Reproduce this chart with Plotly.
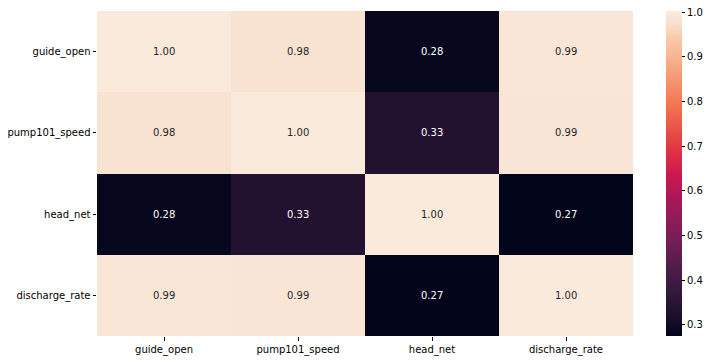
import plotly.graph_objects as go

labels = ["guide_open", "pump101_speed", "head_net", "discharge_rate"]
corr = [
    [1.00, 0.98, 0.281, 0.99],
    [0.98, 1.00, 0.33, 0.988],
    [0.281, 0.33, 1.00, 0.2745],
    [0.99, 0.988, 0.2745, 1.00],
]
cbar_ticks = [0.3, 0.4, 0.5, 0.6, 0.7, 0.8, 0.9, 1.0]

rocket = [
    [0.0, "#03051a"],
    [0.077, "#221230"],
    [1 / 7, "#35193e"],
    [2 / 7, "#701f57"],
    [3 / 7, "#ad1759"],
    [0.5, "#cb1b4f"],
    [4 / 7, "#e13342"],
    [5 / 7, "#f37651"],
    [6 / 7, "#f6b48f"],
    [0.92, "#f7cbad"],
    [0.965, "#f8e1d1"],
    [1.0, "#faebdd"],
]

zmin, zmax = 0.2745, 1.003

fig = go.Figure(
    go.Heatmap(
        z=corr,
        x=labels,
        y=labels,
        colorscale=rocket,
        zmin=zmin,
        zmax=zmax,
        xgap=0,
        ygap=0,
        hoverongaps=False,
        colorbar=dict(
            thickness=16,
            thicknessmode="pixels",
            len=1.0,
            lenmode="fraction",
            x=1.0616,
            xanchor="left",
            xpad=0,
            ypad=0,
            y=0.5,
            yanchor="middle",
            outlinewidth=0,
            ticks="outside",
            ticklen=3.5,
            tickwidth=1,
            tickcolor="#000000",
            tickvals=cbar_ticks,
            ticktext=[f"{v:.1f}" for v in cbar_ticks],
            ticklabeloverflow="allow",
            tickfont=dict(family="DejaVu Sans", size=10, color="#000000"),
        ),
    )
)

annotations = []
for i, row_lab in enumerate(labels):
    for j, col_lab in enumerate(labels):
        v = corr[i][j]
        t = (v - zmin) / (zmax - zmin)
        color = "#ffffff" if t < 0.5 else "#262626"
        annotations.append(
            dict(
                x=col_lab,
                y=row_lab,
                xref="x",
                yref="y",
                text=f"{v:.2f}",
                showarrow=False,
                font=dict(family="DejaVu Sans", size=10, color=color),
            )
        )

fig.update_layout(
    width=704,
    height=354,
    margin=dict(l=89, r=79, t=3, b=26, autoexpand=False),
    paper_bgcolor="white",
    plot_bgcolor="white",
    annotations=annotations,
    xaxis=dict(
        showgrid=False,
        zeroline=False,
        ticks="outside",
        ticklen=3.5,
        tickcolor="#000000",
        tickfont=dict(family="DejaVu Sans", size=10, color="#000000"),
        showline=False,
        automargin=False,
    ),
    yaxis=dict(
        autorange="reversed",
        showgrid=False,
        zeroline=False,
        ticks="outside",
        ticklen=3.5,
        tickcolor="#000000",
        tickfont=dict(family="DejaVu Sans", size=10, color="#000000"),
        showline=False,
        automargin=False,
    ),
)

fig.write_html("out.html")
